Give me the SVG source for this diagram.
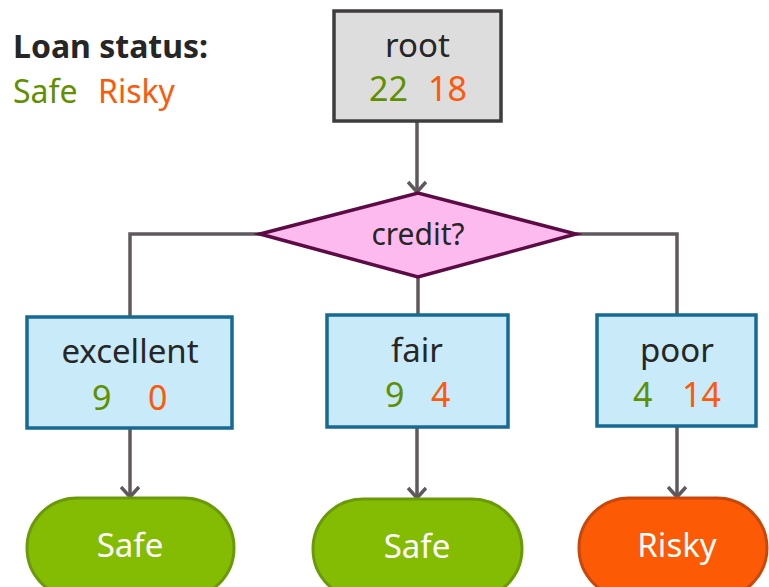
<svg xmlns="http://www.w3.org/2000/svg" width="769" height="587" viewBox="0 0 769 587">
<style>
text{font-family:"Noto Sans","Open Sans","Liberation Sans",sans-serif;}
.lbl{font-size:33px;fill:#262626;text-anchor:middle;}
.num{font-size:34px;}
.g{fill:#5f9000;}
.o{fill:#fc5a0a;}
.box{fill:#c9eaf9;stroke:#176a93;stroke-width:3.5;}
.conn{fill:none;stroke:#5f585c;stroke-width:3.5;}
.pilltxt{font-size:33px;fill:#ffffff;text-anchor:middle;}
</style>
<defs>
<marker id="arr" viewBox="0 0 20 20" refX="18" refY="10" markerWidth="20" markerHeight="20" markerUnits="userSpaceOnUse" orient="auto">
<path d="M8,1 L18,10 L8,19" fill="none" stroke="#5f585c" stroke-width="3.5" stroke-linejoin="miter"/>
</marker>
</defs>
<rect width="769" height="587" fill="#ffffff"/>
<g id="legend">
<text x="13" y="58" font-size="32" font-weight="bold" fill="#262626">Loan status:</text>
<text x="13" y="103" font-size="32"><tspan class="g">Safe</tspan><tspan class="o" x="98">Risky</tspan></text>
</g>
<g id="connectors">
<path class="conn" d="M417,121 V192" marker-end="url(#arr)"/>
<path class="conn" d="M260,234 H130 V317"/>
<path class="conn" d="M576,234 H677 V315"/>
<path class="conn" d="M418,277 V315"/>
<path class="conn" d="M130,428 V497" marker-end="url(#arr)"/>
<path class="conn" d="M417,427 V498" marker-end="url(#arr)"/>
<path class="conn" d="M677,426 V497" marker-end="url(#arr)"/>
</g>
<g id="root">
<rect x="334" y="11" width="167" height="110" fill="#dedddd" stroke="#3f3c3d" stroke-width="3.5"/>
<text class="lbl" x="417.5" y="57">root</text>
<text class="num" x="369" y="101"><tspan class="g">22</tspan><tspan class="o" x="428">18</tspan></text>
</g>
<g id="credit">
<polygon points="260,234 418,193 576,234 418,277" fill="#fdbaee" stroke="#5c0c45" stroke-width="3.5" stroke-linejoin="miter"/>
<text x="418" y="245" font-size="30" fill="#262626" text-anchor="middle">credit?</text>
</g>
<g id="excellent">
<rect class="box" x="27" y="317" width="205" height="111"/>
<text class="lbl" x="130" y="363">excellent</text>
<text class="num" x="92" y="410"><tspan class="g">9</tspan><tspan class="o" x="148">0</tspan></text>
</g>
<g id="fair">
<rect class="box" x="327" y="315" width="181" height="112"/>
<text class="lbl" x="417" y="362">fair</text>
<text class="num" x="385" y="407"><tspan class="g">9</tspan><tspan class="o" x="431">4</tspan></text>
</g>
<g id="poor">
<rect class="box" x="597" y="315" width="159" height="111"/>
<text class="lbl" x="677" y="362">poor</text>
<text class="num" x="633" y="407"><tspan class="g">4</tspan><tspan class="o" x="682">14</tspan></text>
</g>
<g id="safe1">
<rect x="27" y="498" width="207" height="100" rx="50" fill="#84bc04" stroke="#6a9a08" stroke-width="3"/>
<text class="pilltxt" x="130" y="557">Safe</text>
</g>
<g id="safe2">
<rect x="313" y="499" width="209" height="100" rx="50" fill="#84bc04" stroke="#6a9a08" stroke-width="3"/>
<text class="pilltxt" x="417" y="558">Safe</text>
</g>
<g id="risky">
<rect x="579" y="498" width="188" height="100" rx="50" fill="#fc5a04" stroke="#c8480c" stroke-width="3"/>
<text class="pilltxt" x="677" y="557">Risky</text>
</g>
</svg>
